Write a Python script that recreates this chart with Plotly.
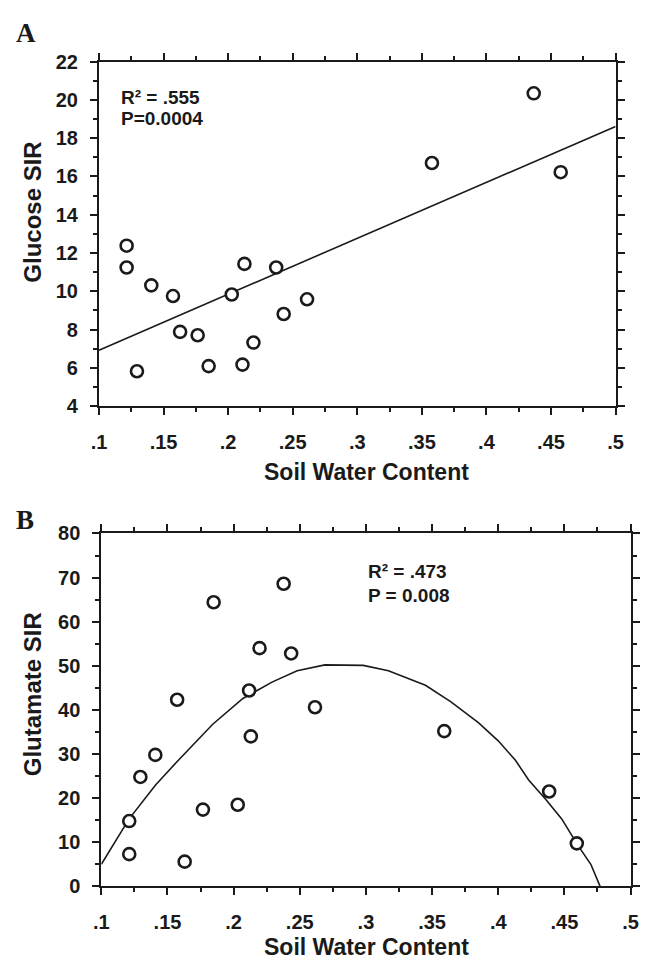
import plotly.graph_objects as go

# ---------------- data ----------------
# Panel A: Glucose SIR vs soil water content
glu_x = [0.1214, 0.1214, 0.1294, 0.1405, 0.1573, 0.1628, 0.1764, 0.1849, 0.2028,
         0.2111, 0.2126, 0.2196, 0.2372, 0.2430, 0.2611, 0.3578, 0.4366, 0.4575]
glu_y = [12.38, 11.24, 5.82, 10.31, 9.75, 7.88, 7.70, 6.09, 9.83,
         6.17, 11.43, 7.32, 11.24, 8.81, 9.58, 16.70, 20.34, 16.22]
glu_fit_x = [0.1, 0.5]
glu_fit_y = [6.92, 18.61]

# Panel B: Glutamate SIR vs soil water content
glt_x = [0.1211, 0.1211, 0.1295, 0.1408, 0.1573, 0.1630, 0.1768, 0.1849, 0.2031,
         0.2117, 0.2130, 0.2196, 0.2378, 0.2435, 0.2615, 0.3592, 0.4385, 0.4594]
glt_y = [14.8, 7.3, 24.8, 29.8, 42.3, 5.6, 17.4, 64.4, 18.5,
         44.4, 34.0, 54.0, 68.6, 52.8, 40.6, 35.2, 21.5, 9.75]
glt_fit_x = [0.100, 0.121, 0.141, 0.157, 0.184, 0.207, 0.229, 0.248, 0.269, 0.298, 0.317,
             0.345, 0.364, 0.385, 0.400, 0.413, 0.423, 0.436, 0.448, 0.460, 0.470, 0.477]
glt_fit_y = [5.0, 15.3, 23.0, 28.2, 36.7, 42.6, 46.3, 48.9, 50.2, 50.1, 48.9,
             45.6, 41.9, 37.1, 33.0, 28.6, 24.1, 19.7, 15.3, 9.4, 5.0, 0.0]

x_tickvals = [0.1, 0.15, 0.2, 0.25, 0.3, 0.35, 0.4, 0.45, 0.5]
x_ticktext = [".1", ".15", ".2", ".25", ".3", ".35", ".4", ".45", ".5"]
glu_yticks = [4, 6, 8, 10, 12, 14, 16, 18, 20, 22]
glt_yticks = [0, 10, 20, 30, 40, 50, 60, 70, 80]

x_title = "Soil Water Content"
glu_title = "Glucose SIR"
glt_title = "Glutamate SIR"
glu_stats = ["R² = .555", "P=0.0004"]
glt_stats = ["R² = .473", "P = 0.008"]

# ---------------- layout helpers ----------------
W, H = 647, 969
INK = "#1a1a1a"
SANS = "Liberation Sans, Arial, sans-serif"
SERIF = "Liberation Serif, Times New Roman, serif"


def fx(p):
    return p / W


def fy(p):
    return 1 - p / H


fig = go.Figure()

marker = dict(symbol="circle", size=12, color="white", line=dict(color=INK, width=2.6))

fig.add_trace(go.Scatter(x=glu_fit_x, y=glu_fit_y, mode="lines",
                         line=dict(color=INK, width=1.6), xaxis="x", yaxis="y",
                         showlegend=False, hoverinfo="skip"))
fig.add_trace(go.Scatter(x=glu_x, y=glu_y, mode="markers", marker=marker,
                         xaxis="x", yaxis="y", showlegend=False, cliponaxis=False))
fig.add_trace(go.Scatter(x=glt_fit_x, y=glt_fit_y, mode="lines",
                         line=dict(color=INK, width=1.6), xaxis="x2", yaxis="y2",
                         showlegend=False, hoverinfo="skip"))
fig.add_trace(go.Scatter(x=glt_x, y=glt_y, mode="markers", marker=marker,
                         xaxis="x2", yaxis="y2", showlegend=False, cliponaxis=False))

tickfont = dict(family=SANS, size=20, color=INK, weight="bold")


def xaxis(domain, anchor):
    return dict(domain=domain, anchor=anchor, range=[0.1, 0.5],
                tickmode="array", tickvals=x_tickvals, ticktext=x_ticktext,
                ticks="outside", ticklen=7, tickwidth=2, tickcolor=INK,
                linewidth=2, linecolor=INK, mirror="ticks", showline=True,
                showgrid=False, zeroline=False, tickfont=tickfont,
                ticklabelstandoff=10,
                minor=dict(tick0=0.1, dtick=0.025, ticks="outside", ticklen=4,
                           tickwidth=1.5, tickcolor=INK, showgrid=False))


def yaxis(domain, anchor, rng, vals, minor_dt):
    return dict(domain=domain, anchor=anchor, range=rng,
                tickmode="array", tickvals=vals, ticktext=[str(v) for v in vals],
                ticks="outside", ticklen=7, tickwidth=2, tickcolor=INK,
                linewidth=2, linecolor=INK, mirror="ticks", showline=True,
                showgrid=False, zeroline=False, tickfont=tickfont,
                ticklabelstandoff=8,
                minor=dict(tick0=rng[0], dtick=minor_dt, ticks="outside", ticklen=4,
                           tickwidth=1.5, tickcolor=INK, showgrid=False))


annotations = []


def text(s, x, y, size, family=SANS, xanchor="left", angle=0, bold=True):
    annotations.append(dict(text=f"<b>{s}</b>" if bold else s, x=fx(x), y=fy(y),
                            xref="paper", yref="paper", xanchor=xanchor,
                            yanchor="middle", showarrow=False, textangle=angle,
                            font=dict(family=family, size=size, color=INK)))


# panel letters
text("A", 6, 22.5, 27, family=SERIF)
text("B", 6, 521, 27, family=SERIF)
# axis titles
text(x_title, 368, 472, 23, xanchor="center")
text(x_title, 368, 957.5, 23, xanchor="center")
text(glu_title, 25, 206, 24, xanchor="center", angle=-90)
text(glt_title, 25, 698.7, 24, xanchor="center", angle=-90)
# stats
text(glu_stats[0], 114, 88.5, 19)
text(glu_stats[1], 114, 110.5, 19)
text(glt_stats[0], 367, 574, 19)
text(glt_stats[1], 367, 598.5, 19)

fig.update_layout(
    width=W, height=H, autosize=False,
    margin=dict(l=0, r=0, t=0, b=0),
    paper_bgcolor="white", plot_bgcolor="white",
    xaxis=xaxis([fx(93.3), fx(623)], "y"),
    yaxis=yaxis([fy(404.3), fy(51.7)], "x", [4, 22], glu_yticks, 1),
    xaxis2=xaxis([fx(95.7), fx(638.3)], "y2"),
    yaxis2=yaxis([fy(895.7), fy(534.6)], "x2", [0, 80], glt_yticks, 5),
    annotations=annotations,
    font=dict(family=SANS, color=INK),
)

fig.write_html("out.html")
